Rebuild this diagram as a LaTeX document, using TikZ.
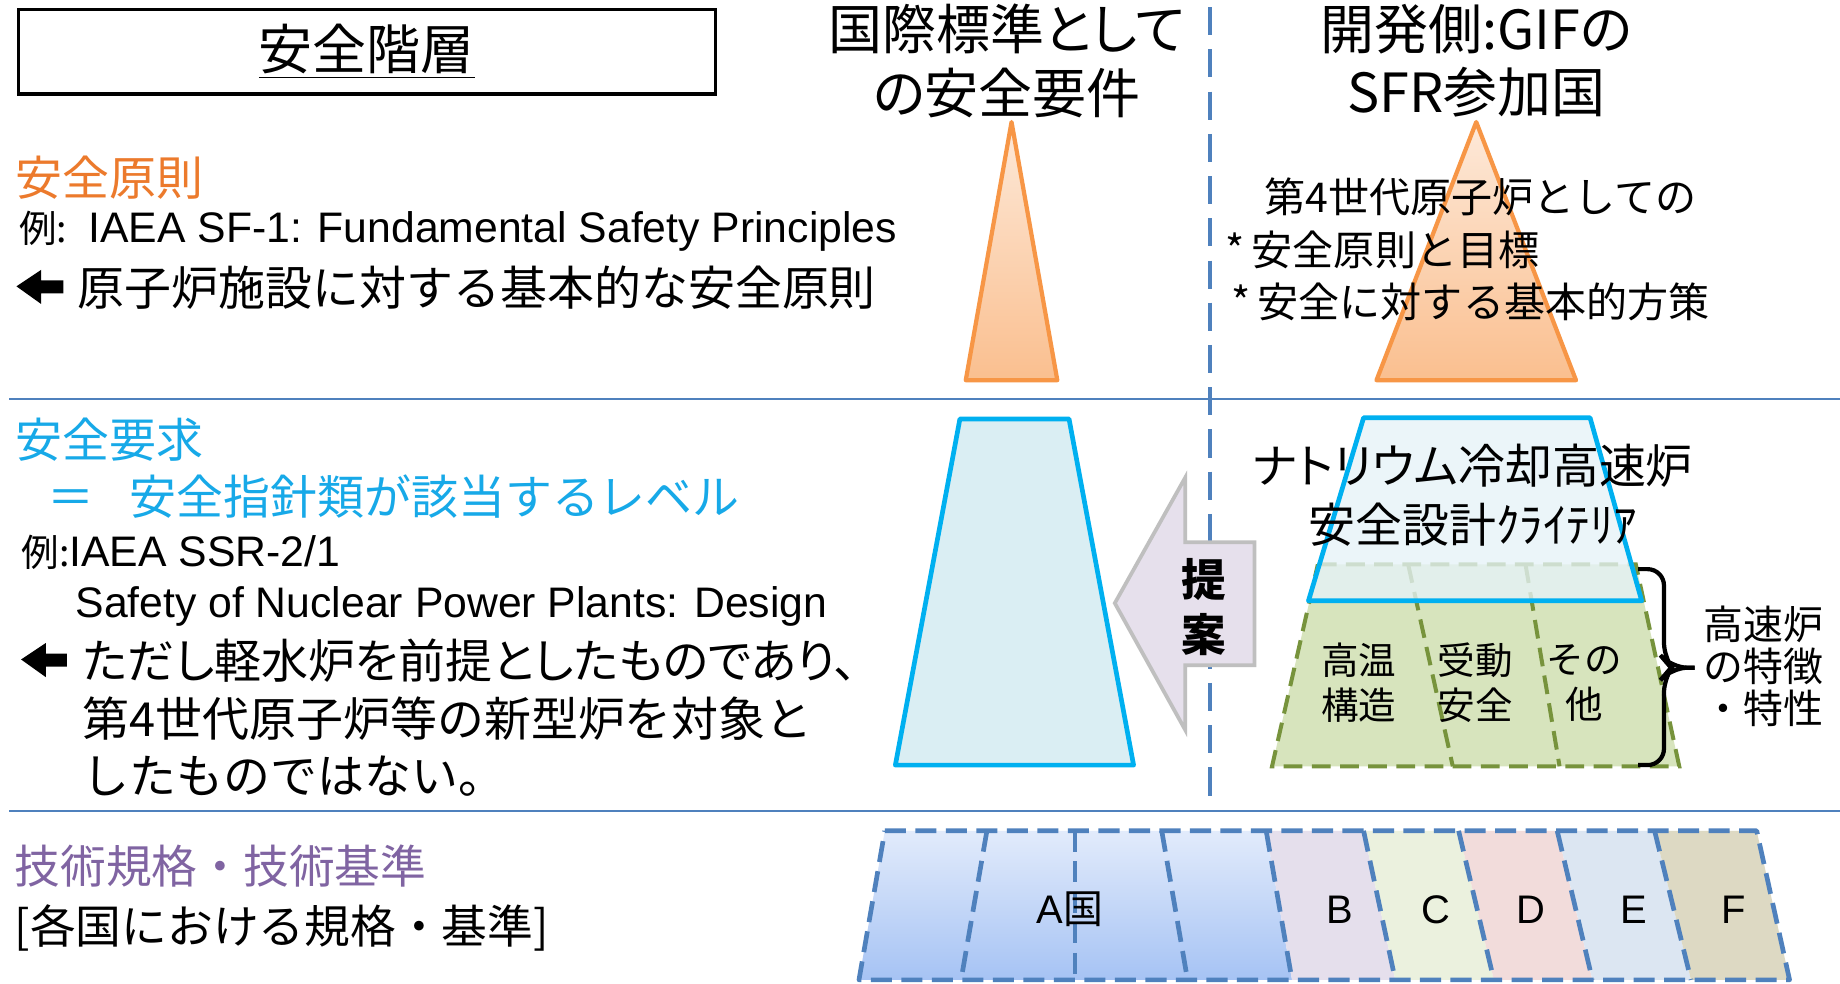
\documentclass[tikz,border=0pt]{standalone}
\usepackage{fontspec}
\setmainfont{Liberation Sans}
\newfontfamily\jp{Noto Sans CJK JP}
\newfontfamily\jpp[RawFeature=+palt]{Noto Sans CJK JP}
\definecolor{lineblue}{HTML}{4F81BD}
\definecolor{orgtext}{HTML}{EC7A2C}
\definecolor{cyantext}{HTML}{17A9E8}
\definecolor{purptext}{HTML}{8064A2}
\definecolor{orgline}{HTML}{F79646}
\definecolor{orgtop}{HTML}{FDE9D9}
\definecolor{orgbot}{HTML}{FABF8F}
\definecolor{cyanline}{HTML}{00B0F0}
\definecolor{trapfill}{HTML}{DAEEF3}
\definecolor{trapfilltwo}{HTML}{E6F3F8}
\definecolor{grnfill}{HTML}{D7E4BD}
\definecolor{grnline}{HTML}{77933C}
\definecolor{arrfill}{HTML}{E6E0EC}
\definecolor{arrline}{HTML}{BFBFBF}
\definecolor{atop}{HTML}{E2EBFB}
\definecolor{abot}{HTML}{A6C3F4}
\definecolor{bfill}{HTML}{E5DFEC}
\definecolor{cfill}{HTML}{EBF1DE}
\definecolor{dfill}{HTML}{F2DCDB}
\definecolor{efill}{HTML}{DCE6F2}
\definecolor{ffill}{HTML}{DDD9C3}
\newcommand{\fs}[2]{\fontsize{#1pt}{#2pt}\selectfont}
\begin{document}
\begin{tikzpicture}[x=0.5pt,y=-0.5pt,
  jt/.style={inner sep=0pt, font=\jp\fs{20}{24}},
  lt/.style={inner sep=0pt, font=\fs{18.2}{22}},
  thin/.style={inner sep=0pt, font=\jp\fs{17.5}{21}, anchor=west},
  sepline/.style={draw=lineblue, line width=1pt},
  vdash/.style={draw=lineblue, line width=1.5pt, dash pattern=on 12pt off 6pt},
  orgtri/.style={draw=orgline, line width=1.8pt, line join=round, top color=orgtop, bottom color=orgbot},
  cyantrap/.style={draw=cyanline, line width=2pt, line join=round},
  grndash/.style={draw=grnline, line width=1.7pt, dash pattern=on 8pt off 4pt},
  natdash/.style={draw=lineblue, line width=2pt, dash pattern=on 9pt off 4pt, line join=round},
  blockarrow/.style={fill=arrfill, draw=arrline, line width=1.6pt, line join=miter},
  heavyarrow/.style={fill=black},
]
\useasboundingbox (0,0) rectangle (1568,838);
\fill[white] (0,0) rectangle (1568,838);

% separators
\draw[sepline] (8,340) -- (1568,340);
\draw[sepline] (8,691) -- (1568,691);
\draw[vdash] (1031,6) -- (1031,686);

% title
\node[draw=black, line width=1.4pt, minimum width=297pt, minimum height=36pt, inner sep=0pt] (title) at (312.5,44)
  {\jp\fs{23}{26}\underline{安全階層}};

% headers
\node[inner sep=0pt, align=center, font=\jpp\fs{23}{27}] (hleft) at (858,52) {国際標準として\\の安全要件};
\node[inner sep=0pt, align=center, font=\jpp\fs{23}{27}] (hright) at (1258,52) {開発側:GIFの\\SFR参加国};

% orange triangles
\path[orgtri] (862,104) -- (901,324) -- (823,324) -- cycle;
\path[orgtri] (1258,104) -- (1343,324) -- (1173,324) -- cycle;

% right texts over triangle
\node[thin] (g1) at (1077,168) {第4世代原子炉としての};
\node[thin] (g2) at (1044,213) {*\hspace{3pt}安全原則と目標};
\node[thin] (g3) at (1049,257) {*\hspace{3pt}安全に対する基本的方策};

% left: safety principles
\node[jt, anchor=west, text=orgtext] (p1) at (13,151) {安全原則};
\node[lt, anchor=west] (p2) at (16,197) {{\jp\fs{16}{20}例:}\hspace{9pt}IAEA SF-1: Fundamental\hspace{5pt}Safety Principles};
\path[heavyarrow] (14,244) -- (35,230) -- (35,239) -- (54,239) -- (54,250) -- (35,250) -- (35,259) -- cycle;
\node[jt, anchor=west] (p3) at (66,245) {原子炉施設に対する基本的な安全原則};

% left: safety requirements
\node[jt, anchor=west, text=cyantext] (r1) at (13,375) {安全要求};
\node[jt, anchor=west, text=cyantext] (r2) at (40,423) {＝\hspace{15pt}安全指針類が該当するレベル};
\node[lt, anchor=west] (r3) at (18,471) {{\jp\fs{16}{20}例:}IAEA SSR-2/1};
\node[lt, anchor=west] (r4) at (64,517) {Safety of Nuclear Power Plants: Design};
\path[heavyarrow] (18,562) -- (39,548) -- (39,557) -- (57,557) -- (57,568) -- (39,568) -- (39,577) -- cycle;
\node[jt, anchor=west, font=\jpp\fs{20}{24}] (r5) at (70,563) {ただし軽水炉を前提としたものであり、};
\node[jt, anchor=west] (r6) at (70,612) {第4世代原子炉等の新型炉を対象と};
\node[jt, anchor=west] (r7) at (70,661) {したものではない。};

% left: codes and standards
\node[jt, anchor=west, text=purptext, font=\jp\fs{19.5}{24}] (c1) at (12,738) {技術規格・技術基準};
\node[jt, anchor=west, font=\jp\fs{19.5}{24}] (c2) at (12,791) {[各国における規格・基準]};

% left blue trapezoid
\draw[cyantrap, fill=trapfill] (818,357) -- (911,357) -- (966,652) -- (763,652) -- cycle;

% block arrow
\draw[blockarrow] (950,514) -- (1010,407) -- (1010,462) -- (1069,462) -- (1069,567) -- (1010,567) -- (1010,622) -- cycle;
\node[inner sep=0pt, align=center, font=\jp\bfseries\fs{19}{23.5}] (teian) at (1026,517) {提\\案};

% green dashed trapezoid
\path[fill=grnfill] (1123,481) -- (1394,481) -- (1431,653) -- (1084,653) -- cycle;
\draw[grndash] (1123,481) -- (1394,481) -- (1431,653) -- (1084,653) -- cycle;
\draw[grndash] (1200,481) -- (1238,653);
\draw[grndash] (1300,481) -- (1329,653);

% right blue trapezoid
\draw[cyantrap, fill=trapfilltwo, fill opacity=0.78] (1162,356) -- (1355,356) -- (1399,512) -- (1115,512) -- cycle;
\node[inner sep=0pt, align=center, font=\jpp\fs{20}{25}] (sfr) at (1255,422) {ナトリウム冷却高速炉\\安全設計ｸﾗｲﾃﾘｱ};

% column texts
\node[inner sep=0pt, align=center, font=\jp\fs{16}{19}] (col1) at (1158,582) {高温\\構造};
\node[inner sep=0pt, align=center, font=\jp\fs{16}{19}] (col2) at (1257,582) {受動\\安全};
\node[inner sep=0pt, align=center, font=\jp\fs{16}{19}] (col3) at (1350,582) {その\\他};

% brace
\coordinate (bt) at (1396,485);
\coordinate (bb) at (1396,652);
\coordinate (btip) at (1444,569);
\draw[line width=1.8pt, rounded corners=7pt] (bt) -- (1418,485) -- (1418,562) -- (1424,569) -- (btip);
\draw[line width=1.8pt, rounded corners=7pt] (bb) -- (1418,652) -- (1418,576) -- (1424,569) -- (btip);
\node[inner sep=0pt, align=center, font=\jp\fs{17}{18}] (feat) at (1503,568) {高速炉\\の特徴\\・特性};

% bottom row
\path[top color=atop, bottom color=abot] (754,708) -- (1079,708) -- (1101,835) -- (732,835) -- cycle;
\fill[bfill] (1079,708) -- (1162,708) -- (1189,835) -- (1101,835) -- cycle;
\fill[cfill] (1162,708) -- (1243,708) -- (1273,835) -- (1189,835) -- cycle;
\fill[dfill] (1243,708) -- (1327,708) -- (1357,835) -- (1273,835) -- cycle;
\fill[efill] (1327,708) -- (1410,708) -- (1441,835) -- (1357,835) -- cycle;
\fill[ffill] (1410,708) -- (1497,708) -- (1525,835) -- (1441,835) -- cycle;
\draw[natdash] (754,708) -- (1497,708) -- (1525,835) -- (732,835) -- cycle;
\draw[natdash] (841,708) -- (819,835);
\draw[natdash] (916,708) -- (916,835);
\draw[natdash] (990,708) -- (1012,835);
\draw[natdash] (1079,708) -- (1101,835);
\draw[natdash] (1162,708) -- (1189,835);
\draw[natdash] (1243,708) -- (1273,835);
\draw[natdash] (1327,708) -- (1357,835);
\draw[natdash] (1410,708) -- (1441,835);
\node[inner sep=0pt, font=\fs{17}{20}] (la) at (912,775) {A{\jp 国}};
\node[inner sep=0pt, font=\fs{17}{20}] (lb) at (1142,775) {B};
\node[inner sep=0pt, font=\fs{17}{20}] (lc) at (1224,775) {C};
\node[inner sep=0pt, font=\fs{17}{20}] (ld) at (1305,775) {D};
\node[inner sep=0pt, font=\fs{17}{20}] (le) at (1392,775) {E};
\node[inner sep=0pt, font=\fs{17}{20}] (lf) at (1477,775) {F};
\end{tikzpicture}
\end{document}
